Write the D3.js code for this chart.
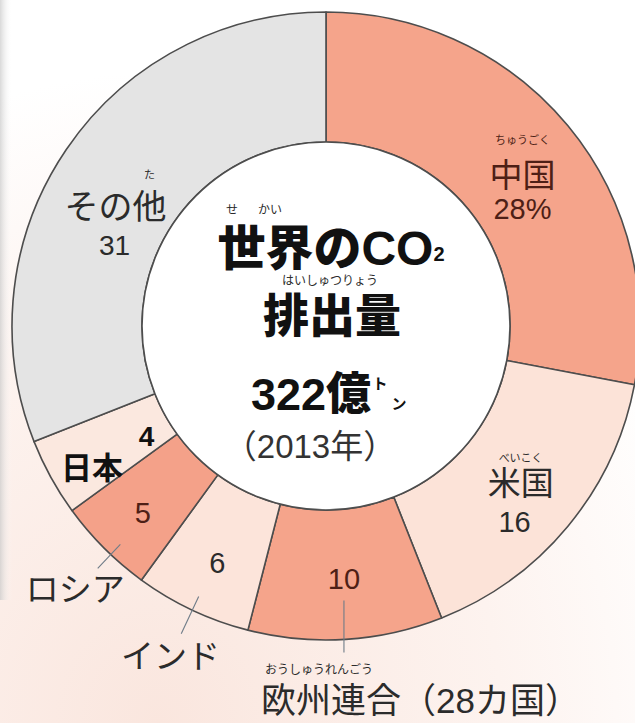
<!DOCTYPE html>
<html lang="ja">
<head>
<meta charset="utf-8">
<script src="https://cdn.jsdelivr.net/npm/d3@7"></script>
<style>
  html, body { margin: 0; padding: 0; background: #fff; }
  svg { display: block; }
  text { font-family: "Liberation Sans", "Noto Sans CJK JP", sans-serif; }
</style>
</head>
<body>
<svg id="chart" width="635" height="723"></svg>
<script>
// 世界のCO2排出量（2013年）— 国・地域別の割合（%）
const categories = ["中国", "米国", "欧州連合", "インド", "ロシア", "日本", "その他"];
const shares     = [28, 16, 10, 6, 5, 4, 31];
const readings   = ["ちゅうごく", "べいこく", "おうしゅうれんごう", "", "", "", "た"];
const totalLabel = "322";
const totalUnit  = "億";
const yearLabel  = "（2013年）";

// segment fills
const fillOf = {
  "中国": "#f5a48b", "米国": "#fce3d8", "欧州連合": "#f5a48b",
  "インド": "#fce4da", "ロシア": "#f4a189", "日本": "#fbe8df", "その他": "#e4e4e4"
};
const darkOnSalmon = "#4e1f16";
const textDark = "#2b2b2b";

const W = 635, H = 723;
const cx = 326, cy = 326;
const rOuter = 314, rInner = 184;

const svg = d3.select("#chart");

// soft paper tint
const defs = svg.append("defs");
const bg = defs.append("radialGradient").attr("id", "paper")
  .attr("cx", "0.25").attr("cy", "1.0").attr("r", "0.9");
bg.append("stop").attr("offset", "0").attr("stop-color", "#fae6de");
bg.append("stop").attr("offset", "0.6").attr("stop-color", "#fdf3ef");
bg.append("stop").attr("offset", "1").attr("stop-color", "#ffffff");
svg.append("rect").attr("width", W).attr("height", H).attr("fill", "url(#paper)");
const edge = defs.append("linearGradient").attr("id", "edge").attr("x1", 0).attr("x2", 1);
edge.append("stop").attr("offset", "0").attr("stop-color", "#c9c9c9");
edge.append("stop").attr("offset", "1").attr("stop-color", "#ffffff").attr("stop-opacity", 0);
svg.append("rect").attr("x", 0).attr("y", 0).attr("width", 12).attr("height", 600)
  .attr("fill", "url(#edge)").attr("opacity", 0.7);

const data = categories.map((c, i) => ({ name: c, share: shares[i], reading: readings[i] }));
const pie = d3.pie().sort(null).value(d => d.share).startAngle(0).endAngle(2 * Math.PI);
const arcs = pie(data);
const arc = d3.arc().innerRadius(rInner).outerRadius(rOuter);

const g = svg.append("g").attr("transform", `translate(${cx},${cy})`);

g.selectAll("path.seg").data(arcs).join("path")
  .attr("class", "seg")
  .attr("d", arc)
  .attr("fill", d => fillOf[d.data.name])
  .attr("stroke", "#4d4d4d")
  .attr("stroke-width", 1.6)
  .attr("stroke-linejoin", "round");

// white centre disc
g.append("circle").attr("r", rInner).attr("fill", "#fff")
  .attr("stroke", "#4d4d4d").attr("stroke-width", 1.6);

// polar helper, angle measured clockwise from 12 o'clock
const pt = (a, r) => [r * Math.sin(a), -r * Math.cos(a)];
const mid = d => (d.startAngle + d.endAngle) / 2;
const byName = Object.fromEntries(arcs.map(d => [d.data.name, d]));
const valueText = d => d.data.name === "中国" ? d.data.share + "%" : String(d.data.share);

function label(x, y, txt, size, opts = {}) {
  return g.append("text")
    .attr("x", x).attr("y", y)
    .attr("text-anchor", opts.anchor || "middle")
    .attr("dominant-baseline", "central")
    .attr("font-size", size)
    .attr("font-weight", opts.weight || 400)
    .attr("fill", opts.fill || textDark)
    .text(txt);
}
function leader(a, r0, r1) {
  const [x0, y0] = pt(a, r0), [x1, y1] = pt(a, r1);
  g.append("line").attr("x1", x0).attr("y1", y0).attr("x2", x1).attr("y2", y1)
    .attr("stroke", "#6f7c88").attr("stroke-width", 1.1);
}

// 中国
{
  const d = byName["中国"]; const [x, y] = pt(mid(d), 255);
  label(x, y - 23, d.data.reading, 11, { fill: darkOnSalmon });
  label(x, y + 12, d.data.name, 33, { fill: darkOnSalmon });
  label(x, y + 46, valueText(d), 29, { fill: darkOnSalmon });
}
// 米国
{
  const d = byName["米国"]; const [x, y] = pt(mid(d), 250);
  label(x + 2, y - 27, d.data.reading, 11);
  label(x + 2, y - 2, d.data.name, 33);
  label(x - 4, y + 37, valueText(d), 29);
}
// 欧州連合
{
  const d = byName["欧州連合"]; const [x, y] = pt(mid(d), 254);
  label(x + 2, y, valueText(d), 29, { fill: darkOnSalmon });
  g.append("line").attr("x1", x + 2).attr("y1", y + 21).attr("x2", x + 2).attr("y2", y + 73)
    .attr("stroke", "#6f7c88").attr("stroke-width", 1.1);
  label(x - 77, y + 91, d.data.reading, 12, { anchor: "start" });
  label(x - 81, y + 121, d.data.name + "（28カ国）", 35, { anchor: "start" });
}
// インド
{
  const d = byName["インド"]; const a = mid(d); const [x, y] = pt(a, 260);
  label(x + 2, y + 2, valueText(d), 29);
  leader(a, 299, 340);
  const [lx, ly] = pt(a, 365);
  label(lx, ly, d.data.name, 33);
}
// ロシア
{
  const d = byName["ロシア"]; const a = mid(d); const [x, y] = pt(a, 262);
  label(x + 2, y + 2, valueText(d), 29, { fill: darkOnSalmon });
  leader(a - 0.03, 300, 333);
  const [lx, ly] = pt(a - 0.025, 364);
  label(lx, ly, d.data.name, 33);
}
// 日本
{
  const d = byName["日本"]; const a = mid(d);
  const [x, y] = pt(a - 0.05, 211);
  label(x, y, valueText(d), 28, { weight: 700, fill: "#111" });
  const [nx, ny] = pt(a - 0.045, 274);
  label(nx, ny, d.data.name, 31, { weight: 700, fill: "#111" });
}
// その他
{
  const d = byName["その他"]; const [x, y] = pt(mid(d), 240);
  label(x + 22, y - 16, d.data.reading, 11);
  label(x - 12, y + 16, d.data.name, 34);
  label(x - 13, y + 54, valueText(d), 28);
}

// centre title
label(-94, -116, "せ", 12);
label(-56, -116, "かい", 12);
const t1 = g.append("text").attr("x", 5).attr("y", -78)
  .attr("text-anchor", "middle").attr("dominant-baseline", "central")
  .attr("font-size", 48).attr("font-weight", 900).attr("fill", "#111");
t1.append("tspan").text("世界のCO");
t1.append("tspan").attr("font-size", 20).attr("dy", 6).text("2");
label(4, -45, "はいしゅつりょう", 12);
label(6, -10, "排出量", 46, { weight: 900, fill: "#111" });

const t2 = g.append("text").attr("x", -15).attr("y", 68)
  .attr("text-anchor", "middle").attr("dominant-baseline", "central")
  .attr("font-size", 45).attr("font-weight", 700).attr("fill", "#111");
t2.append("tspan").text(totalLabel);
t2.append("tspan").attr("font-weight", 900).text(totalUnit);
label(54, 57, "ト", 15, { weight: 700, fill: "#111" });
label(73, 77, "ン", 15, { weight: 700, fill: "#111" });
label(-16, 120, yearLabel, 33, { fill: "#333" });
</script>
</body>
</html>
